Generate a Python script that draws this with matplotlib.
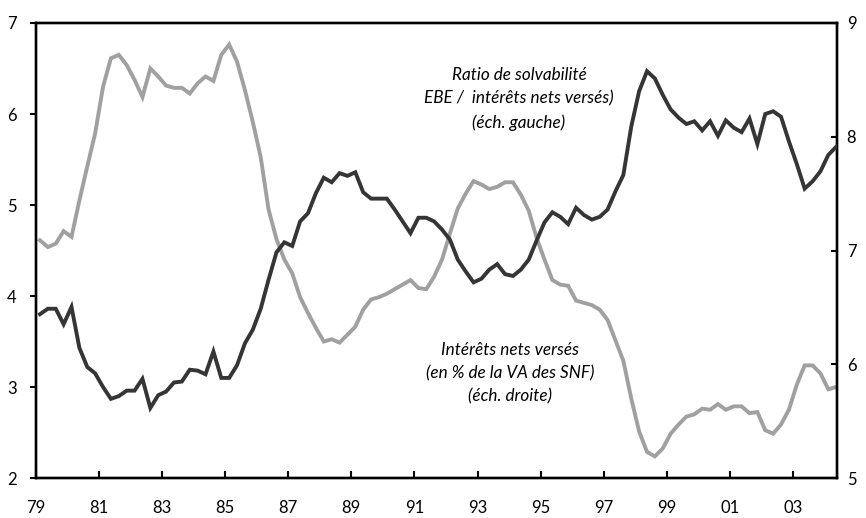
import numpy as np
import pandas as pd
import matplotlib
matplotlib.use('Agg')
import matplotlib.pyplot as plt

plt.rcParams['font.family'] = ['Lato', 'DejaVu Sans']

# quarterly data, 1979Q1 - 2004Q2
quarters = pd.period_range('1979Q1', '2004Q2', freq='Q')

# solvency ratio EBE / net interest paid (left scale)
ratio = [3.80, 3.86, 3.86, 3.69, 3.88, 3.43, 3.22, 3.15, 3.00, 2.87,
         2.90, 2.96, 2.96, 3.09, 2.77, 2.91, 2.95, 3.05, 3.06, 3.19,
         3.18, 3.14, 3.39, 3.10, 3.10, 3.24, 3.48, 3.63, 3.86, 4.18,
         4.48, 4.59, 4.55, 4.82, 4.91, 5.13, 5.30, 5.25, 5.35, 5.32,
         5.36, 5.14, 5.07, 5.07, 5.07, 4.95, 4.82, 4.69, 4.86, 4.86,
         4.82, 4.73, 4.62, 4.40, 4.27, 4.15, 4.19, 4.29, 4.35, 4.24,
         4.22, 4.29, 4.40, 4.61, 4.81, 4.92, 4.87, 4.79, 4.97, 4.89,
         4.84, 4.87, 4.95, 5.15, 5.33, 5.86, 6.25, 6.47, 6.39, 6.21,
         6.05, 5.96, 5.89, 5.92, 5.82, 5.92, 5.76, 5.93, 5.85, 5.80,
         5.95, 5.67, 6.00, 6.03, 5.97, 5.70, 5.45, 5.18, 5.26, 5.37,
         5.55, 5.64]

# net interest paid, % of value added of non-financial firms (right scale)
interets = [7.09, 7.03, 7.06, 7.17, 7.12, 7.44, 7.74, 8.03, 8.44, 8.69,
            8.72, 8.63, 8.50, 8.35, 8.60, 8.53, 8.45, 8.43, 8.43, 8.38,
            8.47, 8.53, 8.49, 8.72, 8.81, 8.66, 8.41, 8.13, 7.82, 7.36,
            7.10, 6.92, 6.80, 6.59, 6.45, 6.32, 6.20, 6.22, 6.19, 6.26,
            6.33, 6.48, 6.57, 6.59, 6.62, 6.66, 6.70, 6.74, 6.67, 6.66,
            6.77, 6.92, 7.15, 7.37, 7.50, 7.61, 7.58, 7.54, 7.56, 7.60,
            7.60, 7.49, 7.35, 7.11, 6.92, 6.74, 6.70, 6.69, 6.56, 6.54,
            6.52, 6.48, 6.39, 6.21, 6.03, 5.70, 5.41, 5.23, 5.19, 5.26,
            5.39, 5.47, 5.54, 5.56, 5.61, 5.60, 5.65, 5.60, 5.63, 5.63,
            5.57, 5.58, 5.42, 5.39, 5.47, 5.60, 5.82, 5.99, 5.99, 5.92,
            5.78, 5.80]

year_ticks = list(range(1979, 2004, 2))
year_labels = [str(y)[2:] for y in year_ticks]

t = quarters.year + (quarters.quarter - 0.5) / 4

fig = plt.figure(figsize=(8.66, 5.18), dpi=100)
ax = fig.add_axes([0.0416, 0.0772, 0.9249, 0.8784])
ax2 = ax.twinx()

ax.plot(t, ratio, color='#353535', lw=2.8, solid_joinstyle='miter', zorder=3)
ax2.plot(t, interets, color='#a0a0a0', lw=2.8, solid_joinstyle='miter')
ax.set_zorder(ax2.get_zorder() + 1)
ax.patch.set_visible(False)

ax.set_xlim(1979, 2004.4)
ax.set_ylim(2, 7)
ax2.set_ylim(5, 9)
ax.set_xticks(year_ticks)
ax.set_xticklabels(year_labels)
ax.set_yticks([2, 3, 4, 5, 6, 7])
ax2.set_yticks([5, 6, 7, 8, 9])

for a in (ax, ax2):
    for s in a.spines.values():
        s.set_linewidth(1.7)
ax.tick_params(axis='y', direction='out', length=4.5, width=1.5, pad=9.5, labelsize=12)
ax.tick_params(axis='x', direction='in', length=5, width=1.5, pad=16, labelsize=12)
ax2.tick_params(axis='y', direction='in', length=4.5, width=1.5, pad=7, labelsize=12)

# series labels
ax.annotate('Ratio de solvabilité\nEBE /  intérêts nets versés)\n(éch. gauche)',
            xy=(519, 518 - 99), xycoords='figure pixels', ha='center', va='center',
            fontsize=12.3, style='italic', linespacing=1.55)
ax.annotate('Intérêts nets versés\n(en % de la VA des SNF)\n(éch. droite)',
            xy=(510, 518 - 373), xycoords='figure pixels', ha='center', va='center',
            fontsize=12.3, style='italic', linespacing=1.55)

fig.savefig('out.png', dpi=100)
